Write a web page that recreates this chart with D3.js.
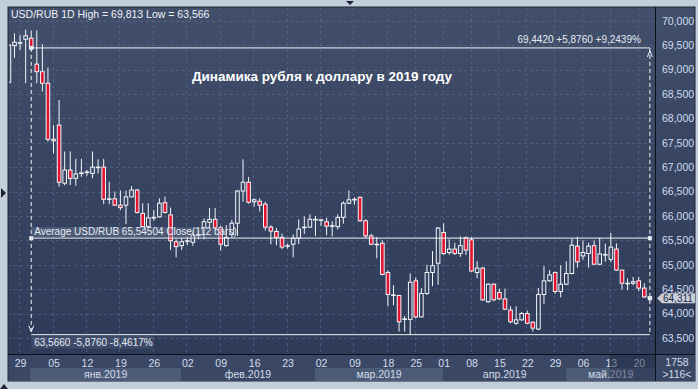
<!DOCTYPE html>
<html lang="ru">
<head>
<meta charset="utf-8">
<script src="https://d3js.org/d3.v7.min.js"></script>
<style>
  body { margin: 0; background: #c3cedb; }
  svg { display: block; font-family: "Liberation Sans", Arial, sans-serif; }
</style>
</head>
<body>
<svg id="chart" width="698" height="389"></svg>
<script>
// USD/RUB daily candles, late Dec 2018 - May 2019
const open = [68.74,69.49,69.545,69.62,69.64,69.11,68.955,68.717,67.57,67.86,
  66.67,66.94,66.77,66.87,66.89,66.87,66.99,67.00,66.34,66.35,
  66.22,66.22,66.39,66.53,66.05,65.78,65.96,65.98,66.27,66.02,
  65.47,65.39,65.48,65.46,65.60,65.76,65.87,65.93,65.76,65.39,
  65.62,65.85,66.51,66.69,66.29,66.30,66.24,65.77,65.68,65.56,
  65.38,65.42,65.54,65.76,65.77,65.93,65.91,65.88,65.80,65.78,
  65.97,66.26,66.34,66.38,65.90,65.59,65.42,65.44,64.84,64.38,
  64.37,63.88,63.88,64.67,63.93,64.41,64.84,65.03,65.66,65.25,
  65.32,65.23,65.55,65.51,64.84,64.93,64.24,64.60,64.43,64.30,
  64.07,63.80,63.87,64.00,63.82,63.68,64.39,64.67,64.84,64.45,
  64.60,64.82,65.38,65.18,65.23,65.39,65.01,65.21,65.11,65.32,
  64.89,64.62,64.62,64.67,64.52,64.34];
const high = [69.52,69.74,69.71,69.813,69.80,69.80,69.52,69.04,67.86,68.375,
  67.32,67.32,67.17,67.17,66.94,67.32,67.16,67.17,66.70,66.50,
  66.52,66.52,66.61,66.55,66.26,66.26,66.12,66.36,66.40,66.17,
  65.52,65.55,65.57,65.68,65.70,65.95,66.16,66.16,65.80,65.81,
  65.92,66.53,67.16,66.80,66.36,66.36,66.29,65.81,65.75,65.64,
  65.43,65.62,65.93,65.99,66.03,66.00,65.93,65.96,65.89,66.03,
  66.30,66.52,66.38,66.40,65.93,65.63,65.57,65.50,64.89,64.58,
  64.38,63.95,64.82,64.74,64.52,65.00,65.28,65.77,65.85,65.52,
  65.45,65.58,65.58,65.56,65.07,64.95,64.62,64.62,64.51,64.51,
  64.15,64.15,64.03,64.06,63.84,64.52,64.97,64.89,64.86,64.99,
  65.07,65.53,65.57,65.50,65.45,65.50,65.55,65.43,65.65,65.44,
  64.89,64.72,64.75,64.75,64.62,64.36];
const low = [68.72,69.24,69.40,68.72,69.40,68.72,68.55,67.52,67.28,66.60,
  66.63,66.63,66.62,66.80,66.82,66.77,66.87,66.24,66.24,66.20,
  66.12,65.83,66.38,66.05,65.76,65.76,65.90,65.97,66.05,65.30,
  65.15,65.30,65.40,65.39,65.52,65.52,65.75,65.73,65.29,65.37,
  65.55,65.59,66.29,66.25,66.19,66.09,65.70,65.42,65.40,65.32,
  65.33,65.15,65.42,65.63,65.76,65.59,65.79,65.60,65.58,65.72,
  65.84,66.24,66.23,65.88,65.55,65.40,65.13,64.78,64.15,64.17,
  63.63,63.63,63.566,63.90,63.92,64.38,64.56,64.59,65.20,65.20,
  65.20,65.16,65.20,64.85,64.72,64.26,64.22,64.25,64.28,64.07,
  63.80,63.77,63.85,63.78,63.63,63.66,64.19,64.65,64.40,64.33,
  64.58,64.80,64.94,65.10,64.94,64.99,64.99,65.06,65.05,64.87,
  64.49,64.48,64.58,64.46,64.32,64.29];
const close = [69.50,69.56,69.55,69.69,69.442,68.955,68.717,67.57,67.54,66.69,
  66.94,66.77,66.86,66.88,66.90,67.00,67.00,66.34,66.35,66.22,
  66.17,66.39,66.53,66.07,65.78,65.96,65.97,66.26,66.07,65.49,
  65.37,65.47,65.49,65.61,65.61,65.88,65.93,65.75,65.42,65.56,
  65.85,66.51,66.69,66.28,66.33,66.22,65.77,65.69,65.56,65.36,
  65.39,65.54,65.73,65.77,65.93,65.93,65.92,65.79,65.80,65.97,
  66.26,66.33,66.34,65.90,65.59,65.42,65.42,64.80,64.39,64.38,
  63.83,63.89,64.64,63.93,64.41,64.84,64.98,65.75,65.23,65.32,
  65.23,65.39,65.30,64.87,64.93,64.28,64.60,64.28,64.30,64.09,
  63.83,63.87,64.00,63.80,63.70,64.39,64.67,64.79,64.45,64.60,
  64.82,65.40,65.06,65.25,65.38,65.01,65.22,65.21,65.36,64.89,
  64.62,64.62,64.65,64.52,64.34,64.311];

const priceTicks = [63.5,64,64.5,65,65.5,66,66.5,67,67.5,68,68.5,69,69.5,70];
const dayTickIdx = [2,8,14,20,26,32,38,44,50,56,62,68,73,78,83,88,93,98,103,108,113];
const dayTickLabels = ["29","05","12","19","26","02","09","16","23","02","09","18","25","01","08","15","22","29","06","13","20"];
const monthLabels = ["янв.2019","фев.2019","мар.2019","апр.2019","май.2019"];
const monthStartIdx = [3.8, 30.9, 54.9, 77.9, 100.0, 118.9];

const measureFrom = 4;           // bar index where the range tool starts
const measureHigh = 69.442, measureLow = 63.566, avgClose = 65.54504;

const svg = d3.select("#chart");
const plotL = 8, plotR = 655, plotT = 7, plotB = 354, axisB = 381, panelR = 695;

const x = d3.scaleLinear().domain([1, 114]).range([14.5, 644.3]);
const y = d3.scaleLinear().domain([63.5, 70]).range([337.9, 20.7]);
const ru = d3.formatLocale({decimal: ",", thousands: "\u00a0", grouping: [3], currency: ["", ""]});
const fmt3 = ru.format(".3f");

const defs = svg.append("defs");
const grad = defs.append("linearGradient").attr("id", "bg").attr("x1", 0).attr("y1", 0).attr("x2", 0).attr("y2", 1);
grad.append("stop").attr("offset", "0%").attr("stop-color", "#414f6b");
grad.append("stop").attr("offset", "100%").attr("stop-color", "#2c3957");
defs.append("clipPath").attr("id", "plotclip").append("rect")
  .attr("x", plotL + 1).attr("y", plotT + 1).attr("width", plotR - plotL - 1).attr("height", plotB - plotT - 1);

// panel
svg.append("rect").attr("x", plotL).attr("y", plotT).attr("width", panelR - plotL).attr("height", axisB - plotT)
  .attr("fill", "url(#bg)").attr("stroke", "#1c2436");
svg.append("rect").attr("x", plotL + 0.5).attr("y", plotB).attr("width", panelR - plotL - 0.5).attr("height", axisB - plotB)
  .attr("fill", "#3a4865");

// month bands
const months = monthLabels.map((m, i) => ({label: m, a: x(monthStartIdx[i]), b: Math.min(plotR, x(monthStartIdx[i + 1]))}));
svg.append("g").selectAll("rect").data(months).join("rect")
  .attr("x", d => d.a).attr("y", 368).attr("width", d => d.b - d.a).attr("height", 13)
  .attr("fill", (d, i) => i % 2 === 0 ? "#4c5b78" : "#3a4865");
svg.append("g").selectAll("text").data(months).join("text")
  .attr("x", d => (d.a + d.b) / 2).attr("y", 378).attr("text-anchor", "middle")
  .attr("font-size", 10.5).attr("fill", "#d4dcea").text(d => d.label);

// x axis (day ticks)
const xAxis = svg.append("g").attr("transform", `translate(0,${plotB})`)
  .call(d3.axisBottom(x).tickValues(dayTickIdx).tickFormat((d, i) => dayTickLabels[i]).tickSize(0));
xAxis.select(".domain").remove();
xAxis.selectAll("text").attr("font-size", 10.5).attr("fill", "#d4dcea").attr("dy", "0.95em")
  .style("font-family", "Liberation Sans, Arial, sans-serif");
svg.append("rect").attr("x", 610).attr("y", plotB + 1).attr("width", plotR - 610).attr("height", axisB - plotB - 1)
  .attr("fill", "#1c2640").attr("opacity", 0.45);

// grid
const grid = svg.append("g").attr("clip-path", "url(#plotclip)")
  .attr("stroke", "#6a7a98").attr("stroke-opacity", 0.45).attr("stroke-dasharray", "3,3");
grid.selectAll(".h").data(priceTicks).join("line").attr("class", "h")
  .attr("x1", plotL).attr("x2", plotR).attr("y1", d => Math.round(y(d)) + 0.5).attr("y2", d => Math.round(y(d)) + 0.5);
grid.selectAll(".v").data(dayTickIdx).join("line").attr("class", "v")
  .attr("y1", plotT).attr("y2", plotB).attr("x1", d => Math.round(x(d)) - 0.5).attr("x2", d => Math.round(x(d)) - 0.5);

// separators
svg.append("line").attr("x1", plotR + 0.5).attr("x2", plotR + 0.5).attr("y1", plotT).attr("y2", axisB).attr("stroke", "#0c1018");
svg.append("line").attr("x1", plotL).attr("x2", panelR).attr("y1", plotB + 0.5).attr("y2", plotB + 0.5).attr("stroke", "#0c1018");

// y axis
const yAxis = svg.append("g").attr("transform", `translate(${plotR + 4},0)`)
  .call(d3.axisRight(y).tickValues(priceTicks).tickFormat(fmt3).tickSize(0));
yAxis.select(".domain").remove();
yAxis.selectAll("text").attr("font-size", 10.5).attr("fill", "#cfdcf0")
  .style("font-family", "Liberation Sans, Arial, sans-serif");

// candles
const bars = d3.range(open.length).map(i => ({i, o: open[i], h: high[i], l: low[i], c: close[i]}));
const plot = svg.append("g").attr("clip-path", "url(#plotclip)");
const bw = 3.6;
const cg = plot.selectAll("g.c").data(bars).join("g").attr("class", "c");
cg.append("line")
  .attr("x1", d => x(d.i)).attr("x2", d => x(d.i))
  .attr("y1", d => y(d.h)).attr("y2", d => y(Math.max(d.o, d.c)))
  .attr("stroke", "#f4f6fa");
cg.append("line")
  .attr("x1", d => x(d.i)).attr("x2", d => x(d.i))
  .attr("y1", d => y(Math.min(d.o, d.c))).attr("y2", d => y(d.l))
  .attr("stroke", "#f4f6fa");
cg.append("rect")
  .attr("x", d => x(d.i) - bw / 2).attr("width", bw)
  .attr("y", d => y(Math.max(d.o, d.c)))
  .attr("height", d => Math.max(0.6, y(Math.min(d.o, d.c)) - y(Math.max(d.o, d.c))))
  .attr("fill", d => d.c < d.o ? "#e3122f" : "none")
  .attr("stroke", "#f4f6fa").attr("stroke-width", 1);

// range tool and average line
const xa = x(measureFrom), xb = x(open.length - 1);
const tools = svg.append("g").attr("stroke", "#f4f6fa").attr("fill", "none");
tools.append("line").attr("x1", xa).attr("x2", xb).attr("y1", y(measureHigh)).attr("y2", y(measureHigh));
tools.append("line").attr("x1", xa).attr("x2", xb).attr("y1", y(measureLow)).attr("y2", y(measureLow));
tools.append("line").attr("x1", xa).attr("x2", xb).attr("y1", y(avgClose)).attr("y2", y(avgClose));
tools.append("line").attr("x1", xa).attr("x2", xa).attr("y1", y(measureHigh)).attr("y2", y(measureLow)).attr("stroke-dasharray", "4,3");
tools.append("line").attr("x1", xb).attr("x2", xb).attr("y1", y(measureHigh)).attr("y2", y(measureLow)).attr("stroke-dasharray", "4,3");
tools.append("path").attr("d", `M${xb - 2.5},${y(measureHigh) + 9} L${xb},${y(measureHigh) + 3} L${xb + 2.5},${y(measureHigh) + 9}`);
tools.append("path").attr("d", `M${xa - 2.5},${y(measureLow) - 9} L${xa},${y(measureLow) - 3} L${xa + 2.5},${y(measureLow) - 9}`);
const dots = [[xa, y(measureHigh)], [xa, y(avgClose)], [xb, y(avgClose)], [xb, y(close[close.length - 1])]];
svg.append("g").selectAll("rect").data(dots).join("rect")
  .attr("x", d => d[0] - 2).attr("y", d => d[1] - 2).attr("width", 4).attr("height", 4).attr("fill", "#e8ecf4");

// labels
svg.append("rect").attr("x", xa).attr("y", y(avgClose) - 11).attr("width", 192).attr("height", 10.5)
  .attr("fill", "#7d8aa4").attr("opacity", 0.35);
svg.append("text").attr("x", xa + 3).attr("y", y(avgClose) - 3).attr("font-size", 10).attr("fill", "#e6ecf5")
  .text(`Average USD/RUB ${ru.format(".5f")(avgClose)} Close(112 bars)`);
svg.append("rect").attr("x", xa).attr("y", y(measureLow) + 1).attr("width", 122).attr("height", 13)
  .attr("fill", "#4a5876").attr("opacity", 0.55);
svg.append("text").attr("x", xa + 3).attr("y", y(measureLow) + 11).attr("font-size", 10).attr("fill", "#e6ecf5")
  .text(`${ru.format(".4f")(measureLow)}  -${ru.format(".4f")(measureHigh - measureLow)}  -${ru.format(".4f")((measureHigh - measureLow) / measureHigh * 100)}%`);
svg.append("text").attr("x", xb - 9).attr("y", y(measureHigh) - 5).attr("text-anchor", "end").attr("font-size", 10).attr("fill", "#e6ecf5")
  .text(`${ru.format(".4f")(measureHigh)}  +${ru.format(".4f")(measureHigh - measureLow)}  +${ru.format(".4f")((measureHigh - measureLow) / measureLow * 100)}%`);

svg.append("text").attr("x", 11).attr("y", 18).attr("font-size", 10.5).attr("fill", "#eef2f8")
  .text(`USD/RUB 1D High = ${ru.format(".3f")(d3.max(high))} Low = ${ru.format(".3f")(d3.min(low))}`);
svg.append("text").attr("x", 322).attr("y", 81).attr("text-anchor", "middle").attr("font-size", 13.5)
  .attr("font-weight", "bold").attr("fill", "#ffffff").text("Динамика рубля к доллару в 2019 году");

// last price tag
const ly = y(close[close.length - 1]);
svg.append("path").attr("d", `M${plotR + 2},${ly} L${plotR + 7},${ly - 5} L${panelR},${ly - 5} L${panelR},${ly + 5} L${plotR + 7},${ly + 5} Z`)
  .attr("fill", "#c9cdd6");
svg.append("text").attr("x", plotR + 8).attr("y", ly + 3.5).attr("font-size", 10).attr("fill", "#1d2a48")
  .text(fmt3(close[close.length - 1]));

// corner info
svg.append("text").attr("x", 677).attr("y", 366).attr("text-anchor", "middle").attr("font-size", 10.5).attr("fill", "#d4dcea").text("1758");
svg.append("text").attr("x", 677).attr("y", 378).attr("text-anchor", "middle").attr("font-size", 10.5).attr("fill", "#d4dcea").text(">" + open.length + "<");

// window markers
svg.append("path").attr("d", "M346,1 L354,1 L350,5 Z").attr("fill", "#1c2436");
svg.append("path").attr("d", "M1,188 L6,193 L1,198 Z").attr("fill", "#1c2436");
svg.append("path").attr("d", "M0,389 L4,384 L8,389 Z").attr("fill", "#1c2436");
</script>
</body>
</html>
